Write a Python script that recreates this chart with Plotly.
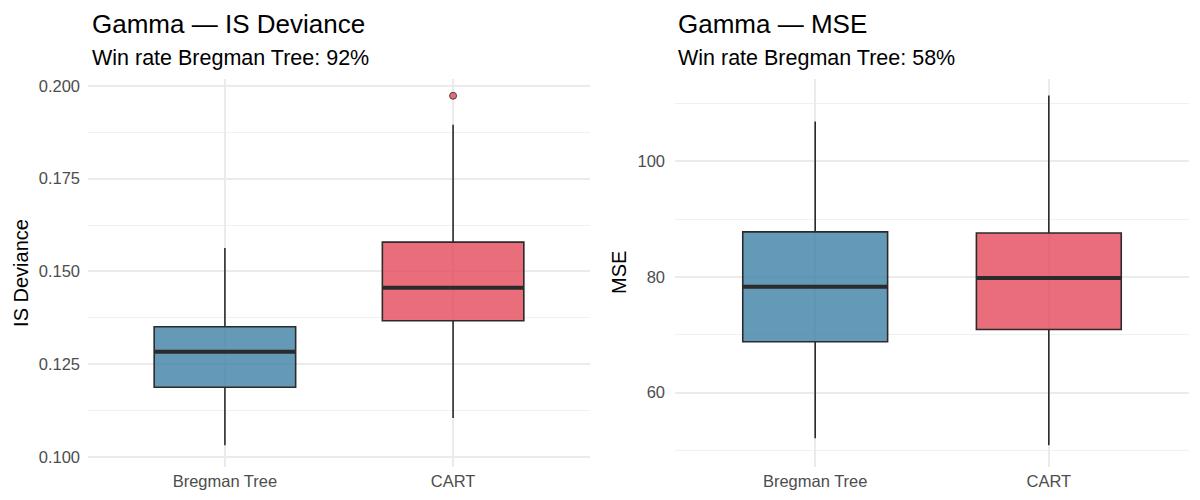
import plotly.graph_objects as go

categories = ["Bregman Tree", "CART"]

# IS Deviance panel stats
dev_lower = [0.1032, 0.1105]
dev_q1 = [0.1188, 0.1367]
dev_median = [0.1284, 0.1456]
dev_q3 = [0.1351, 0.1579]
dev_upper = [0.1563, 0.1895]
dev_outlier_cat = ["CART"]
dev_outlier_val = [0.1973]

# MSE panel stats
mse_lower = [52.1, 50.9]
mse_q1 = [68.8, 70.9]
mse_median = [78.3, 79.8]
mse_q3 = [87.8, 87.6]
mse_upper = [106.9, 111.4]

titles = ["Gamma — IS Deviance", "Gamma — MSE"]
subtitles = ["Win rate Bregman Tree: 92%", "Win rate Bregman Tree: 58%"]
ytitles = ["IS Deviance", "MSE"]

fills = ["rgba(62,128,166,0.8)", "rgba(227,72,90,0.8)"]
edge = "#2b2b2b"
FONT = "Liberation Sans, Arial, sans-serif"
BOXW = 0.62

fig = go.Figure()

def add_panel(xa, ya, lo, q1, med, q3, up):
    for i, c in enumerate(categories):
        fig.add_trace(go.Box(
            x=[c], lowerfence=[lo[i]], q1=[q1[i]], median=[med[i]], q3=[q3[i]], upperfence=[up[i]],
            fillcolor=fills[i], line=dict(color=edge, width=1.6), whiskerwidth=0,
            width=BOXW, boxpoints=False, showlegend=False, hoverinfo="skip",
            xaxis=xa, yaxis=ya))
        fig.add_shape(type="line", xref=xa, yref=ya, x0=i - BOXW / 2, x1=i + BOXW / 2,
                      y0=med[i], y1=med[i], line=dict(color=edge, width=4), layer="above")

add_panel("x", "y", dev_lower, dev_q1, dev_median, dev_q3, dev_upper)
add_panel("x2", "y2", mse_lower, mse_q1, mse_median, mse_q3, mse_upper)

fig.add_trace(go.Scatter(x=dev_outlier_cat, y=dev_outlier_val, mode="markers",
                         marker=dict(size=7, color=fills[1], line=dict(color="#444", width=1)),
                         showlegend=False, hoverinfo="skip", xaxis="x", yaxis="y"))

W, H = 1200, 500
top, bottom = 77, 467
ydom = [1 - bottom / H, 1 - top / H]
xdoms = [[88 / W, 590 / W], [675 / W, 1189 / W]]

grid = "#EBEBEB"
tickfont = dict(family=FONT, size=16.5, color="#4D4D4D")

xcommon = dict(type="category", categoryorder="array", categoryarray=categories,
               range=[-0.6, 1.6], showgrid=True, gridcolor=grid, gridwidth=1.6,
               zeroline=False, showline=False, ticks="", tickfont=tickfont, fixedrange=True,
               ticklabelstandoff=2)

fig.update_layout(
    width=W, height=H, margin=dict(l=0, r=0, t=0, b=0),
    paper_bgcolor="white", plot_bgcolor="white",
    xaxis=dict(domain=xdoms[0], anchor="y", **xcommon),
    xaxis2=dict(domain=xdoms[1], anchor="y2", **xcommon),
    yaxis=dict(domain=ydom, anchor="x", range=[0.0973, 0.2019], dtick=0.025, tick0=0.1,
               tickformat=".3f", showgrid=True, gridcolor=grid, gridwidth=1.6, zeroline=False,
               ticks="", tickfont=tickfont, ticklabelstandoff=7,
               minor=dict(dtick=0.0125, tick0=0.1, showgrid=True, gridcolor="#F0F0F0", gridwidth=0.8)),
    yaxis2=dict(domain=ydom, anchor="x2", range=[47.1, 114.3], dtick=20, tick0=0,
                showgrid=True, gridcolor=grid, gridwidth=1.6, zeroline=False,
                ticks="", tickfont=tickfont, ticklabelstandoff=9,
                minor=dict(dtick=10, tick0=0, showgrid=True, gridcolor="#F0F0F0", gridwidth=0.8)),
    font=dict(family=FONT),
)

title_x = [90, 676]
ytitle_x = [21, 619]
for k in range(2):
    fig.add_annotation(text=titles[k], xref="paper", yref="paper", x=title_x[k] / W, y=1 - 22 / H,
                       xanchor="left", yanchor="middle", showarrow=False,
                       font=dict(family=FONT, size=26, color="black"))
    fig.add_annotation(text=subtitles[k], xref="paper", yref="paper", x=title_x[k] / W, y=1 - 56 / H,
                       xanchor="left", yanchor="middle", showarrow=False,
                       font=dict(family=FONT, size=21.5, color="black"))
    fig.add_annotation(text=ytitles[k], xref="paper", yref="paper", x=ytitle_x[k] / W,
                       y=1 - ((top + bottom) / 2) / H, textangle=-90,
                       xanchor="center", yanchor="middle", showarrow=False,
                       font=dict(family=FONT, size=20, color="black"))

fig.write_html("out.html")
